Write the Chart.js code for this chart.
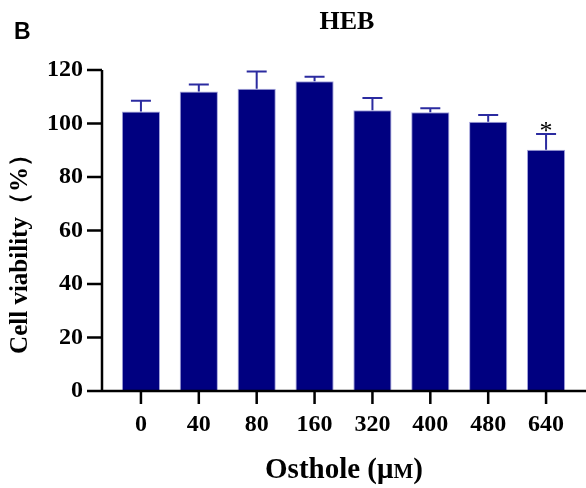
<!DOCTYPE html>
<html>
<head>
<meta charset="utf-8">
<script src="https://cdn.jsdelivr.net/npm/chart.js@4.4.1/dist/chart.umd.min.js"></script>
<style>
  html, body { margin: 0; padding: 0; background: #fff; }
  #wrap { width: 586px; height: 488px; position: relative; }
</style>
</head>
<body>
<div id="wrap"><canvas id="chart"></canvas></div>
<script>
// values
const doses = ['0', '40', '80', '160', '320', '400', '480', '640'];
const viability = [104.5, 112.0, 113.0, 115.8, 105.0, 104.2, 100.7, 90.2];
const errUp = [4.0, 2.6, 6.4, 1.7, 4.5, 1.5, 2.5, 5.9];
const marks = ['', '', '', '', '', '', '', '*'];
const yTicks = [0, 20, 40, 60, 80, 100, 120];

const serif = '"Liberation Serif", "Times New Roman", serif';

// Prism-like axes, error bars and annotations
const prismPlugin = {
  id: 'prism',
  afterDatasetsDraw(chart) {
    const { ctx, chartArea, scales } = chart;
    const x = scales.x, y = scales.y;
    const axisX = chartArea.left - 10;
    const base = y.getPixelForValue(0);

    ctx.save();
    // error bars (upper only)
    ctx.strokeStyle = '#2b2ba0';
    ctx.lineWidth = 2;
    viability.forEach((v, i) => {
      const cx = x.getPixelForValue(i);
      const top = y.getPixelForValue(v + errUp[i]);
      const bar = y.getPixelForValue(v);
      ctx.beginPath();
      ctx.moveTo(cx, bar);
      ctx.lineTo(cx, top);
      ctx.moveTo(cx - 10, top);
      ctx.lineTo(cx + 10, top);
      ctx.stroke();
      if (marks[i]) {
        ctx.fillStyle = '#000';
        ctx.font = '26px ' + serif;
        ctx.textAlign = 'center';
        ctx.textBaseline = 'bottom';
        ctx.fillText(marks[i], cx, top + 11);
      }
    });

    // axes
    ctx.strokeStyle = '#000';
    ctx.lineWidth = 2.5;
    ctx.beginPath();
    ctx.moveTo(axisX, y.getPixelForValue(yTicks[yTicks.length - 1]));
    ctx.lineTo(axisX, base);
    yTicks.forEach(t => {
      const py = y.getPixelForValue(t);
      ctx.moveTo(axisX - 15, py);
      ctx.lineTo(axisX, py);
    });
    ctx.moveTo(chartArea.left - 22, base);
    ctx.lineTo(chart.width, base);
    doses.forEach((d, i) => {
      const px = x.getPixelForValue(i);
      ctx.moveTo(px, base);
      ctx.lineTo(px, base + 13);
    });
    ctx.stroke();

    // texts
    ctx.fillStyle = '#000';
    ctx.textBaseline = 'middle';
    ctx.textAlign = 'center';
    ctx.font = 'bold 26px ' + serif;
    ctx.fillText('HEB', 347, 22);

    ctx.textAlign = 'left';
    ctx.font = 'bold 23px "Liberation Sans", Arial, sans-serif';
    ctx.fillText('B', 14, 33);

    // x title with small-cap M
    const big = 'bold 29px ' + serif, small = 'bold 21px ' + serif;
    const parts = [['Osthole (μ', big], ['M', small], [')', big]];
    let total = 0;
    parts.forEach(p => { ctx.font = p[1]; total += ctx.measureText(p[0]).width; });
    let tx = 344 - total / 2;
    ctx.textBaseline = 'alphabetic';
    parts.forEach(p => {
      ctx.font = p[1];
      ctx.fillText(p[0], tx, 478);
      tx += ctx.measureText(p[0]).width;
    });

    ctx.textAlign = 'center';
    ctx.textBaseline = 'middle';
    ctx.translate(21, 248);
    ctx.rotate(-Math.PI / 2);
    ctx.font = 'bold 25px ' + serif;
    ctx.fillText('Cell viability（%）', 0, 0);
    ctx.restore();
  }
};

new Chart(document.getElementById('chart'), {
  type: 'bar',
  data: {
    labels: doses,
    datasets: [{
      data: viability,
      backgroundColor: '#000080',
      borderColor: '#a4a4dc',
      borderWidth: 1,
      categoryPercentage: 1,
      barPercentage: 0.66,
    }]
  },
  options: {
    responsive: true,
    maintainAspectRatio: false,
    animation: false,
    layout: { padding: { top: 70, right: 11, left: 0, bottom: 0 } },
    plugins: {
      legend: { display: false },
      tooltip: { enabled: false },
    },
    scales: {
      x: {
        grid: { display: false, drawTicks: false },
        border: { display: false },
        ticks: {
          color: '#000',
          padding: 19,
          maxRotation: 0,
          font: { family: serif, size: 24, weight: 'bold' }
        },
        afterFit(scale) { scale.height = 97; }
      },
      y: {
        min: 0,
        max: 120,
        grid: { display: false, drawTicks: false },
        border: { display: false },
        afterBuildTicks(scale) { scale.ticks = yTicks.map(v => ({ value: v })); },
        ticks: {
          color: '#000',
          padding: 29,
          font: { family: serif, size: 24, weight: 'bold' }
        },
        afterFit(scale) { scale.width = 112; }
      }
    }
  },
  plugins: [prismPlugin]
});
</script>
</body>
</html>
